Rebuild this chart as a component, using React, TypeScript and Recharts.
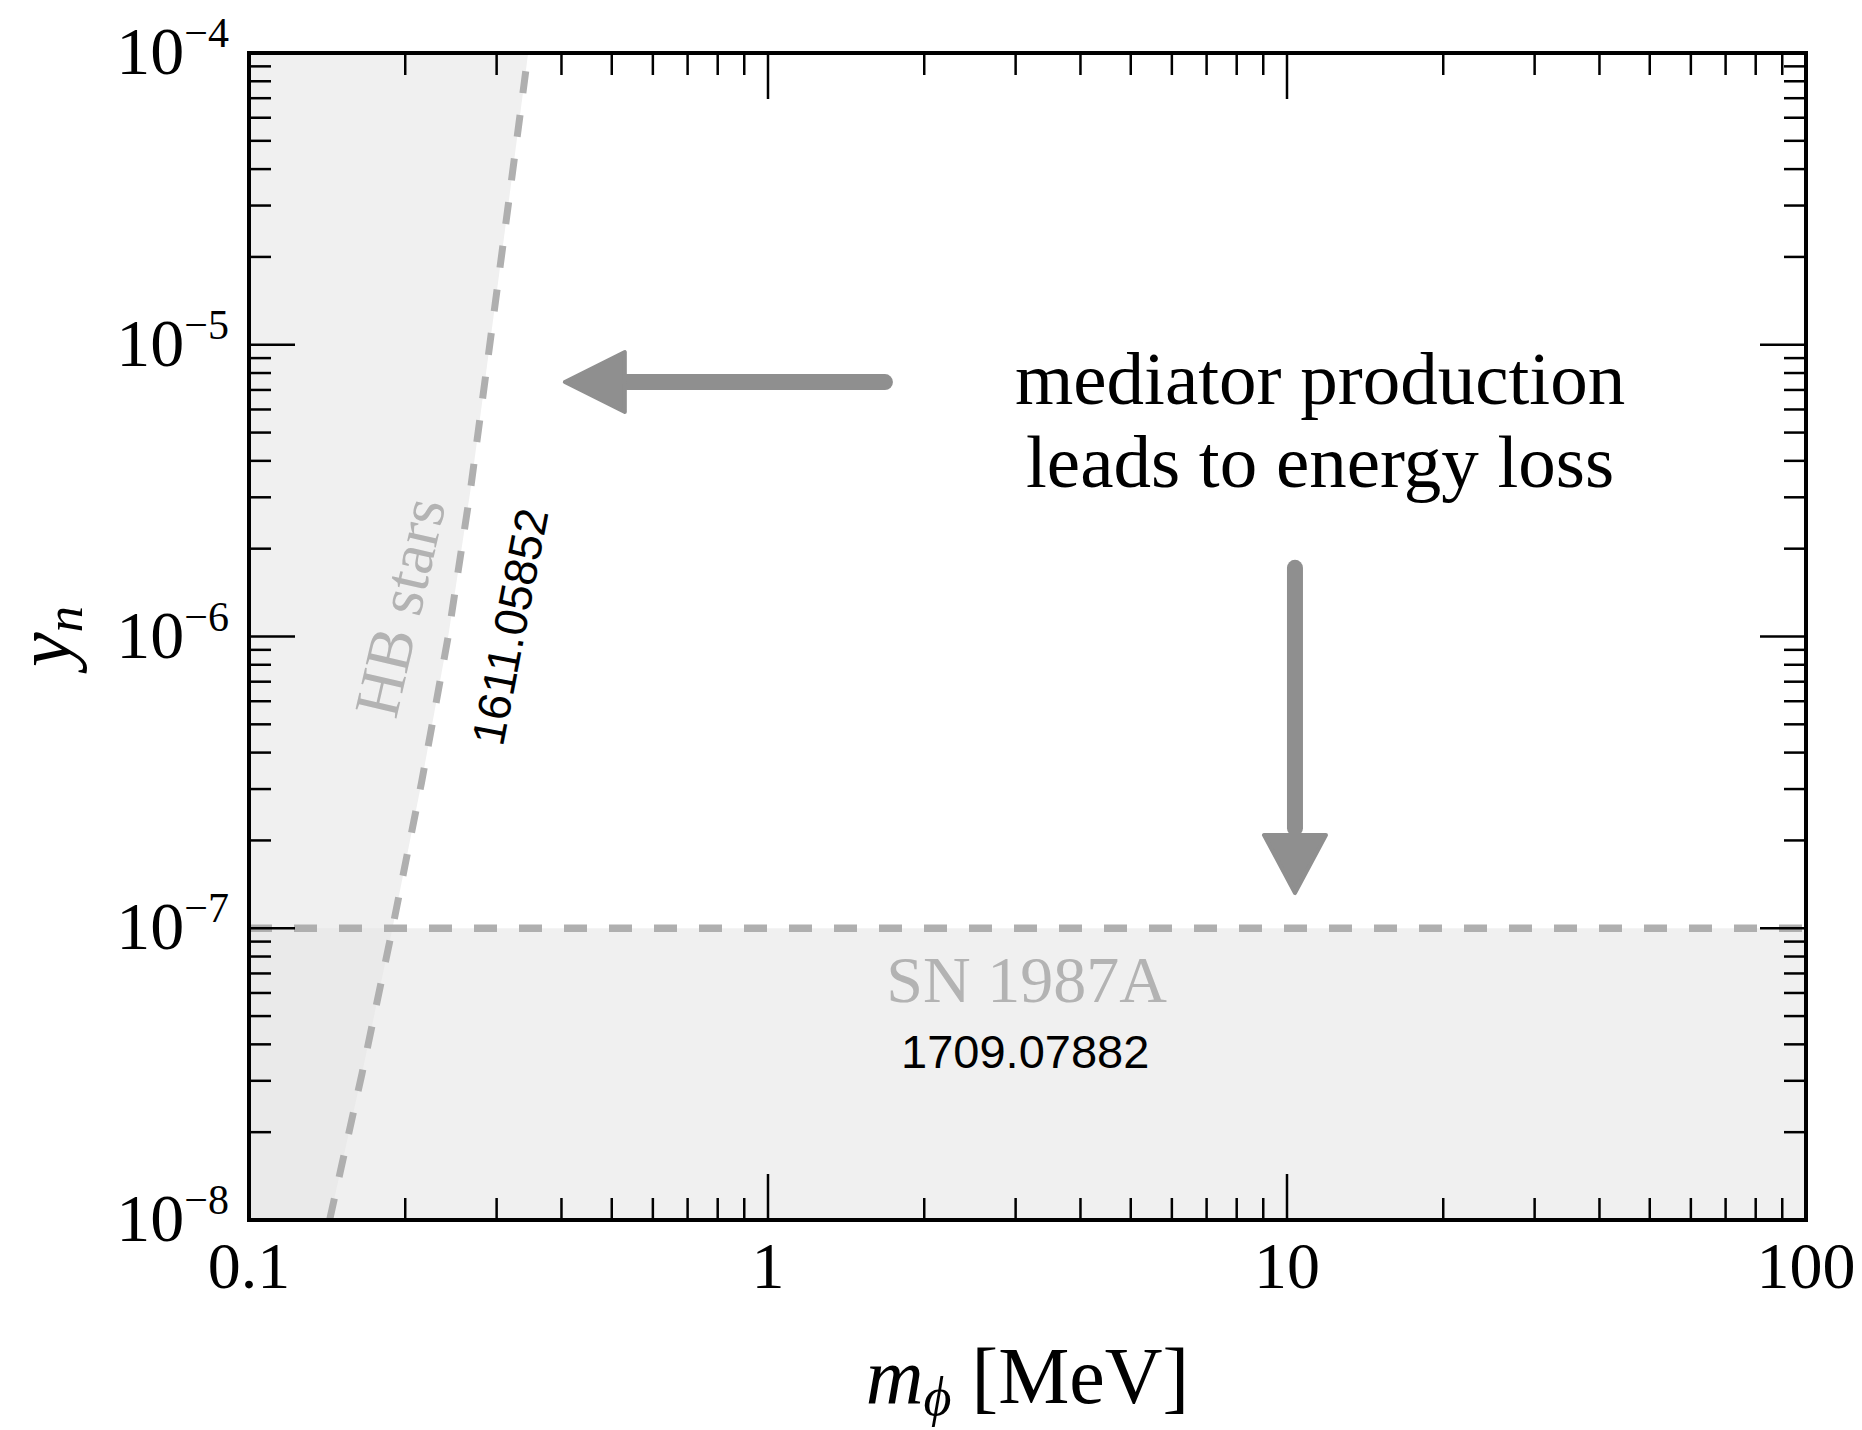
import React from 'react';
import { ComposedChart, XAxis, YAxis, Area, Line, Scatter } from 'recharts';

// ---- chart data ----
const massDomain = [0.1, 100]; // m_phi [MeV]
const couplingDomain = [1e-8, 1e-4]; // y_n

// HB stars bound (dashed curve), 1611.05852
const hbMass = [0.143, 0.165, 0.189, 0.215, 0.242, 0.267, 0.291, 0.317, 0.345];
const hbCoupling = [1e-8, 3.16e-8, 1e-7, 3.16e-7, 1e-6, 3.16e-6, 1e-5, 3.16e-5, 1e-4];

// SN 1987A bound (flat), 1709.07882
const snCoupling = 1e-7;

// annotation arrows (data coordinates)
const leftArrowTip = { m: 0.406, y: 7.45e-6 };
const leftArrowShaft = [0.535, 1.68];
const downArrowTip = { m: 10.36, y: 1.32e-7 };
const downArrowShaft = [1.72e-6, 2.2e-7];

// text annotations
const annotations = [
  { id: 'hb', text: 'HB stars', m: 0.1954, y: 1.26e-6 },
  { id: 'hbRef', text: '1611.05852', m: 0.3184, y: 1.08e-6 },
  { id: 'sn', text: 'SN 1987A', m: 3.15, y: 5.58e-8 },
  { id: 'snRef', text: '1709.07882', m: 3.13, y: 3.32e-8 },
  { id: 'line1', text: 'mediator production', m: 11.58, y: 6.27e-6 },
  { id: 'line2', text: 'leads to energy loss', m: 11.58, y: 3.25e-6 },
];

// ---- derived series ----
const decadeSteps = [1, 2, 3, 4, 5, 6, 7, 8, 9];
const massTicks = [0.1, 1, 10]
  .flatMap(d => decadeSteps.map(k => +(k * d).toPrecision(3)))
  .concat(100);
const couplingTicks = [1e-8, 1e-7, 1e-6, 1e-5]
  .flatMap(d => decadeSteps.map(k => +(k * d).toPrecision(3)))
  .concat(1e-4);

const hbLine = hbMass.map((m, i) => ({ m, y: hbCoupling[i] }));
const hbBand = [{ m: massDomain[0], band: [couplingDomain[0], couplingDomain[1]] }].concat(
  hbMass.map((m, i) => ({ m, band: [hbCoupling[i], couplingDomain[1]] }))
);
const overlapBand = [{ m: massDomain[0], band: [couplingDomain[0], snCoupling] }].concat(
  hbMass
    .map((m, i) => ({ m, band: [hbCoupling[i], snCoupling] }))
    .filter(p => p.band[0] <= snCoupling)
);
const snBand = [
  { m: massDomain[0], band: [couplingDomain[0], snCoupling] },
  { m: massDomain[1], band: [couplingDomain[0], snCoupling] },
];
const snLine = [
  { m: massDomain[0], y: snCoupling },
  { m: massDomain[1], y: snCoupling },
];

// ---- styling ----
const W = 1862;
const H = 1430;
const SERIF = "'Liberation Serif', 'Times New Roman', serif";
const SANS = "'Liberation Sans', Arial, sans-serif";
const MAJOR = 46;
const MINOR = 22;
const GREY_TEXT = '#b3b3b3';
const DASH = '#afafaf';
const ARROW = '#8f8f8f';

const annotationStyle: Record<string, any> = {
  hb: { font: SERIF, size: 64, fill: GREY_TEXT, rot: -77, central: true },
  hbRef: { font: SANS, size: 46, fill: '#000', rot: -79, central: true },
  sn: { font: SERIF, size: 66, fill: GREY_TEXT, rot: 0 },
  snRef: { font: SANS, size: 47, fill: '#000', rot: 0 },
  line1: { font: SERIF, size: 75, fill: '#000', rot: 0 },
  line2: { font: SERIF, size: 75, fill: '#000', rot: 0 },
};

const isMajor = (v: number) => {
  const l = Math.log10(v);
  return Math.abs(l - Math.round(l)) < 1e-6;
};

const BottomTick = (p: any) => {
  const v = p.payload.value;
  const major = isMajor(v);
  return (
    <g>
      <line x1={p.x} x2={p.x} y1={p.y} y2={p.y - (major ? MAJOR : MINOR)} stroke="#000" strokeWidth={2.5} />
      {major && (
        <text x={p.x} y={p.y + 68} textAnchor="middle" fontSize={66} fontFamily={SERIF} fill="#000">
          {String(v)}
        </text>
      )}
    </g>
  );
};

const TopTick = (p: any) => {
  const major = isMajor(p.payload.value);
  return <line x1={p.x} x2={p.x} y1={p.y} y2={p.y + (major ? MAJOR : MINOR)} stroke="#000" strokeWidth={2.5} />;
};

const LeftTick = (p: any) => {
  const v = p.payload.value;
  const major = isMajor(v);
  return (
    <g>
      <line x1={p.x} x2={p.x + (major ? MAJOR : MINOR)} y1={p.y} y2={p.y} stroke="#000" strokeWidth={2.5} />
      {major && (
        <text x={p.x - 20} y={p.y + 21} textAnchor="end" fontSize={68} fontFamily={SERIF} fill="#000">
          10
          <tspan dy={-27} fontSize={42}>
            {'\u2212' + Math.abs(Math.round(Math.log10(v)))}
          </tspan>
        </text>
      )}
    </g>
  );
};

const RightTick = (p: any) => {
  const major = isMajor(p.payload.value);
  return <line x1={p.x} x2={p.x - (major ? MAJOR : MINOR)} y1={p.y} y2={p.y} stroke="#000" strokeWidth={2.5} />;
};

const AnnotationText = (props: any) => {
  const { cx, cy, payload } = props;
  const s = annotationStyle[payload.id];
  return (
    <text
      x={cx}
      y={cy}
      textAnchor="middle"
      dominantBaseline={s.central ? 'central' : undefined}
      transform={s.rot ? `rotate(${s.rot} ${cx} ${cy})` : undefined}
      fontFamily={s.font}
      fontSize={s.size}
      fill={s.fill}
    >
      {payload.text}
    </text>
  );
};

const LeftHead = (props: any) => {
  const { cx, cy } = props;
  return (
    <polygon
      points={`${cx},${cy} ${cx + 60},${cy - 30} ${cx + 60},${cy + 30}`}
      fill={ARROW}
      stroke={ARROW}
      strokeWidth={4}
      strokeLinejoin="round"
    />
  );
};

const DownHead = (props: any) => {
  const { cx, cy } = props;
  return (
    <polygon
      points={`${cx},${cy} ${cx - 31},${cy - 58} ${cx + 31},${cy - 58}`}
      fill={ARROW}
      stroke={ARROW}
      strokeWidth={4}
      strokeLinejoin="round"
    />
  );
};

const frame = { stroke: '#000', strokeWidth: 4, strokeLinecap: 'square' as const };

export default function App() {
  return (
    <div style={{ position: 'absolute', left: 0, top: 0, width: W, height: H, background: '#fff' }}>
      <ComposedChart width={W} height={H} margin={{ top: 52, right: 55, bottom: 209, left: 248 }}>
        <XAxis
          dataKey="m"
          type="number"
          scale="log"
          domain={massDomain}
          allowDataOverflow
          ticks={massTicks}
          interval={0}
          height={1}
          tickSize={0}
          tickMargin={0}
          axisLine={frame}
          tickLine={false}
          tick={BottomTick}
          label={{
            content: (lp: any) => {
              const vb = lp.viewBox;
              return (
                <text x={vb.x + vb.width / 2} y={vb.y + 183} textAnchor="middle" fontFamily={SERIF} fontSize={80} fill="#000">
                  <tspan fontStyle="italic">m</tspan>
                  <tspan fontStyle="italic" fontSize={54} dy={12}>{'\u03D5'}</tspan>
                  <tspan dy={-12}>{' [MeV]'}</tspan>
                </text>
              );
            },
          }}
        />
        <XAxis
          xAxisId="top"
          orientation="top"
          dataKey="m"
          type="number"
          scale="log"
          domain={massDomain}
          allowDataOverflow
          ticks={massTicks}
          interval={0}
          height={1}
          tickSize={0}
          tickMargin={0}
          axisLine={frame}
          tickLine={false}
          tick={TopTick}
        />
        <YAxis
          dataKey="y"
          type="number"
          scale="log"
          domain={couplingDomain}
          allowDataOverflow
          ticks={couplingTicks}
          interval={0}
          width={1}
          tickSize={0}
          tickMargin={0}
          axisLine={frame}
          tickLine={false}
          tick={LeftTick}
          label={{
            content: (lp: any) => {
              const vb = lp.viewBox;
              const cx = vb.x - 178;
              const cy = vb.y + vb.height / 2;
              return (
                <text x={cx} y={cy} transform={`rotate(-90 ${cx} ${cy})`} textAnchor="middle" fontFamily={SERIF} fontSize={78} fill="#000">
                  <tspan fontStyle="italic">y</tspan>
                  <tspan fontStyle="italic" fontSize={53} dy={12}>n</tspan>
                </text>
              );
            },
          }}
        />
        <YAxis
          yAxisId="right"
          orientation="right"
          dataKey="y"
          type="number"
          scale="log"
          domain={couplingDomain}
          allowDataOverflow
          ticks={couplingTicks}
          interval={0}
          width={1}
          tickSize={0}
          tickMargin={0}
          axisLine={frame}
          tickLine={false}
          tick={RightTick}
        />

        {/* excluded regions */}
        <Area data={snBand} dataKey="band" type="linear" fill="#f0f0f0" fillOpacity={1} stroke="none" isAnimationActive={false} />
        <Area data={hbBand} dataKey="band" type="linear" fill="#f0f0f0" fillOpacity={1} stroke="none" isAnimationActive={false} />
        <Area data={overlapBand} dataKey="band" type="linear" fill="#eaeaea" fillOpacity={1} stroke="none" isAnimationActive={false} />

        {/* bounds */}
        <Line data={snLine} dataKey="y" type="linear" stroke={DASH} strokeWidth={7.5} strokeDasharray="23 22" dot={false} activeDot={false} isAnimationActive={false} />
        <Line data={hbLine} dataKey="y" type="linear" stroke={DASH} strokeWidth={7} strokeDasharray="22 22" dot={false} activeDot={false} isAnimationActive={false} />

        {/* arrows */}
        <Line
          data={leftArrowShaft.map(m => ({ m, y: leftArrowTip.y }))}
          dataKey="y"
          type="linear"
          stroke={ARROW}
          strokeWidth={16}
          strokeLinecap="round"
          dot={false}
          activeDot={false}
          isAnimationActive={false}
        />
        <Line
          data={downArrowShaft.map(y => ({ m: downArrowTip.m, y }))}
          dataKey="y"
          type="linear"
          stroke={ARROW}
          strokeWidth={16}
          strokeLinecap="round"
          dot={false}
          activeDot={false}
          isAnimationActive={false}
        />
        <Scatter data={[leftArrowTip]} dataKey="y" shape={<LeftHead />} isAnimationActive={false} />
        <Scatter data={[downArrowTip]} dataKey="y" shape={<DownHead />} isAnimationActive={false} />

        {/* labels */}
        <Scatter data={annotations} dataKey="y" shape={<AnnotationText />} isAnimationActive={false} />
      </ComposedChart>
    </div>
  );
}
